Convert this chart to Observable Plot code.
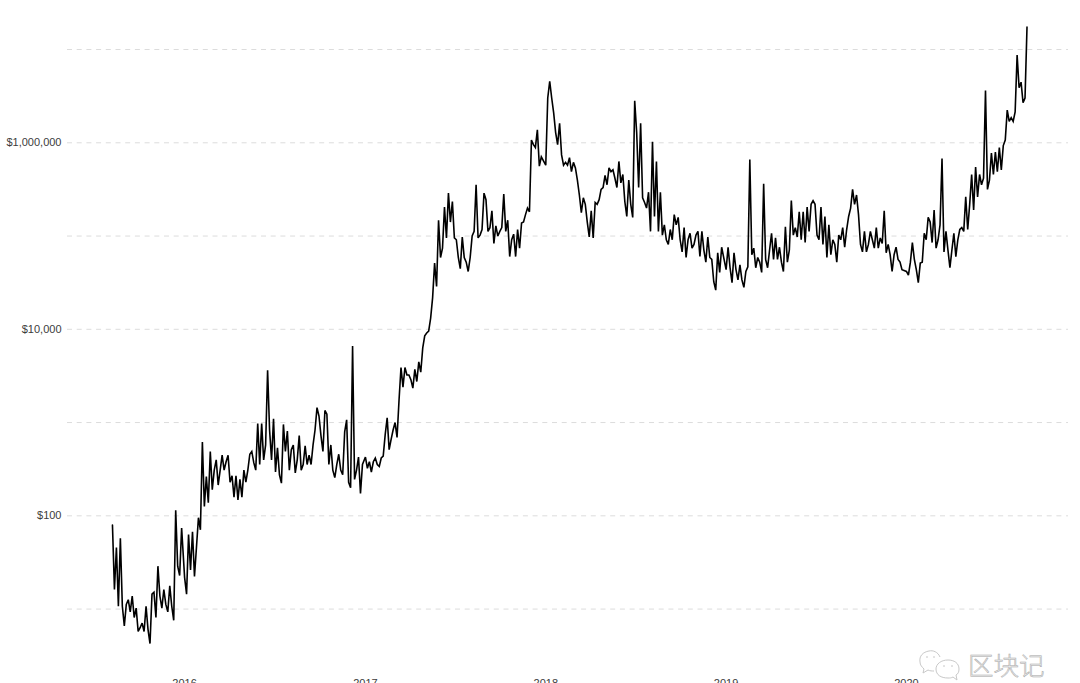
<!DOCTYPE html>
<html>
<head>
<meta charset="utf-8">
<script src="https://cdn.jsdelivr.net/npm/d3@7"></script>
<script src="https://cdn.jsdelivr.net/npm/@observablehq/plot@0.6"></script>
<style>
html,body{margin:0;padding:0;background:#fff;width:1080px;height:683px;overflow:hidden}
#chart{position:absolute;left:0;top:0;opacity:.999}
#mark{position:absolute;left:968px;top:646px;font:300 25.5px "Noto Sans CJK SC";line-height:36px;color:#ececec;-webkit-text-stroke:.5px #a8a8a8;letter-spacing:0}
#logo{position:absolute;left:918px;top:649px}
</style>
</head>
<body>
<div id="chart"></div>
<svg id="logo" width="44" height="34" viewBox="0 0 44 34" fill="none" stroke="#c8c8c8" stroke-width="1">
<path d="M22 8C20 3 15 1 11 2C5 3 1 7 2 13C2 16 4 18 6 20L5 24L10 21C12 22 14 22 16 22"/>
<path d="M41 20C41 14 36 11 30 11C23 11 18 15 18 20C18 26 23 29 30 29C32 29 33 29 35 28L39 31L38 26C40 25 41 23 41 20Z"/>
<path d="M8 8h2M15 8h2M25 17h2M33 17h2"/>
</svg>
<div id="mark">区块记</div>
<script>
// Price, as log10 of US dollars, one reading every four days.
const log10Usd2015 = [1.90,1.21,1.66,1.03,1.76,1.03,.82,1.05,1.10,.97,1.14,.91,1.01,.76,.80,.85,.76,1.03,.78,.63,1.16,1.18,.91,1.46,1.14,1.01,1.21,1.05,.97,1.25,1.03,.88,2.06,1.46,1.36,1.87];
const log10Usd2016 = [1.34,1.16,1.80,1.42,1.83,1.35,1.66,1.98,1.85,2.79,
2.10,2.42,2.14,2.69,2.28,2.49,2.60,2.33,2.49,2.65,
2.49,2.58,2.65,2.36,2.43,2.20,2.43,2.17,2.39,2.20,
2.49,2.36,2.49,2.66,2.69,2.57,2.49,2.99,2.55,2.99,
2.60,2.76,3.56,2.92,2.60,3.04,2.47,2.73,2.44,2.35,
2.98,2.69,2.91,2.49,2.71,2.76,2.46,2.60,2.86,2.49,
2.55,2.75,2.55,2.65,2.55,2.76,2.92,3.16,3.07,2.86,
2.69,3.13,3.09,2.55,2.76,2.49,2.41,2.55,2.66,2.49,
2.44,2.90,3.03,2.36,2.30,3.82,2.39,2.49,2.63,2.24,2.55];
const log10Usd2017 = [2.63,2.51,2.58,2.47,2.58,2.62,2.55,2.53,2.62,2.64,
2.87,3.05,2.71,2.82,2.92,3.00,2.84,3.24,3.59,3.38,
3.59,3.51,3.51,3.46,3.37,3.57,3.44,3.65,3.54,3.80,
3.93,3.96,3.98,4.12,4.34,4.71,4.46,5.17,4.77,4.87,
5.31,4.98,5.46,5.15,5.37,4.98,4.96,4.77,4.65,4.99,
4.77,4.72,4.62,4.77,5.00,5.05,5.55,4.98,5.01,5.07,
5.46,5.39,5.05,5.09,5.27,4.92,5.11,5.00,5.05,5.09,
5.45,5.05,5.17,4.78,4.96,5.02,4.78,5.07,4.87,5.14,
5.15,5.23,5.30,5.26,6.03,5.98,5.95,6.14,5.75,5.85];
const log10Usd2018 = [5.76,6.48,6.66,6.48,6.32,6.11,5.98,6.21,5.87,5.76,
5.79,5.76,5.84,5.69,5.79,5.73,5.60,5.44,5.25,5.41,
5.34,5.15,4.99,5.27,4.98,5.36,5.34,5.39,5.50,5.52,
5.65,5.55,5.73,5.69,5.71,5.62,5.52,5.80,5.57,5.66,
5.37,5.21,5.60,5.34,5.20,6.45,6.11,5.52,6.21,5.41,
5.36,5.30,5.47,5.05,6.01,5.21,5.80,5.05,5.47,5.01,
5.12,4.96,4.91,5.07,4.96,5.23,5.12,5.20,4.96,4.83,
5.09,4.77,4.96,5.03,4.87,4.91,5.01,5.05,4.78,5.05,
4.85,4.72,4.99,4.77,4.75,4.51,4.42,4.82,4.61,4.88];
const log10Usd2019 = [4.64,4.88,4.66,4.50,4.82,4.64,4.53,4.69,4.53,4.45,
4.62,4.67,5.82,4.80,4.87,4.66,4.77,4.72,4.61,5.56,
4.75,4.66,4.85,5.03,4.75,4.98,4.75,4.88,4.72,4.62,
5.10,4.72,4.85,5.38,5.01,5.09,4.99,5.26,4.96,5.26,
4.93,5.31,5.05,5.34,5.38,5.34,5.01,4.96,5.31,4.91,
5.21,4.77,5.12,4.80,4.96,4.91,4.72,5.01,4.96,5.09,
4.88,5.07,5.21,5.30,5.50,5.34,5.44,5.23,4.91,4.83,
5.05,4.83,4.91,5.05,4.96,4.87,5.09,4.87,4.98,4.92,
5.27,4.82,4.91,4.80,4.62,4.80,4.88,4.75,4.72,4.64];
const log10Usd2020 = [4.62,4.58,4.72,4.93,4.75,4.64,4.50,4.71,4.72,5.03,
4.96,5.20,5.15,4.93,5.28,4.87,4.96,5.12,5.83,4.83,
5.05,4.85,4.66,4.85,5.03,4.78,4.96,5.07,5.09,5.05,
5.42,5.07,5.34,5.66,5.28,5.74,5.42,5.66,5.55,5.62,
6.56,5.50,5.60,5.89,5.66,5.90,5.69,5.95,5.71,5.97,
6.03,6.35,6.23,6.27,6.23,6.33,6.94,6.59,6.65,6.43,6.48,7.24];
const segments = [
  ["2015-08-08", log10Usd2015],
  ["2016-01-01", log10Usd2016],
  ["2017-01-01", log10Usd2017],
  ["2018-01-01", log10Usd2018],
  ["2019-01-01", log10Usd2019],
  ["2020-01-01", log10Usd2020]
];
const stepDays = 4;
const gridValues = [10, 100, 1000, 10000, 100000, 1000000, 10000000];
const labelValues = [100, 10000, 1000000];
const yearTicks = [2016, 2017, 2018, 2019, 2020].map(y => new Date(Date.UTC(y, 0, 1)));

const series = segments.flatMap(([start, values]) => {
  const t0 = new Date(start + "T00:00:00Z");
  return values.map((v, i) => ({date: d3.utcDay.offset(t0, i * stepDays), price: 10 ** v}));
});

const chart = Plot.plot({
  width: 1080,
  height: 700,
  marginLeft: 67,
  marginRight: 12,
  marginTop: 9.3,
  marginBottom: 40.7,
  style: {fontFamily: '"Liberation Sans", Arial, sans-serif', background: "#fff"},
  x: {type: "utc", domain: [new Date("2015-05-09T00:00:00Z"), new Date("2020-11-24T00:00:00Z")]},
  y: {type: "log", domain: [2.858, 2.667e7]},
  marks: [
    Plot.ruleY(gridValues, {stroke: "#dcdcdc", strokeWidth: 1, strokeDasharray: "5,4.7"}),
    Plot.axisY({ticks: labelValues, tickFormat: d3.format("$,"), tickSize: 0, tickPadding: 6, label: null, fontSize: 11, fill: "#3c3c3c"}),
    Plot.axisX({ticks: yearTicks, tickFormat: d3.utcFormat("%Y"), tickSize: 0, tickPadding: 19.7, label: null, fontSize: 11, fill: "#3c3c3c"}),
    Plot.line(series, {x: "date", y: "price", stroke: "#000", strokeWidth: 1.6, strokeLinejoin: "miter", strokeMiterlimit: 3, curve: "linear"})
  ]
});
document.getElementById("chart").appendChild(chart);
</script>
</body>
</html>
